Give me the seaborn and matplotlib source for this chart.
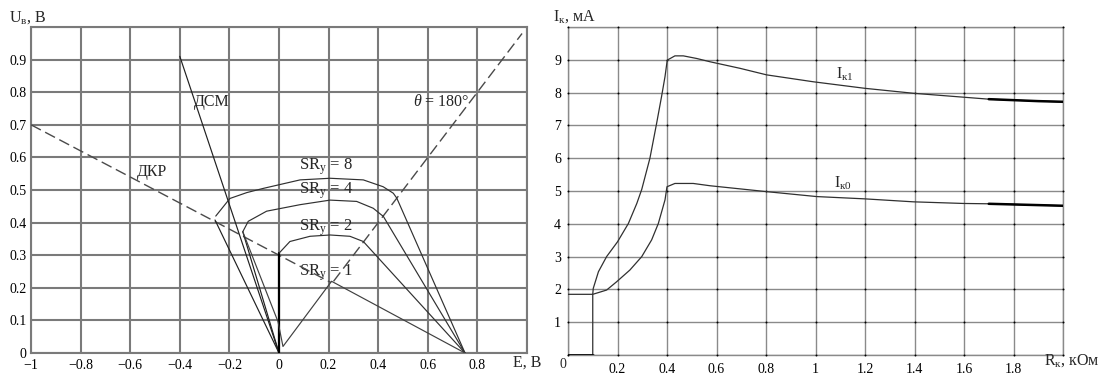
import numpy as np
import matplotlib
matplotlib.use("Agg")
import matplotlib.pyplot as plt
import seaborn as sns

# ---------------- data: left chart (E, B  vs  U_в, B) ----------------
dkr_E = [-1.0, 0.21]
dkr_U = [0.70, 0.216]
theta_E = [0.22, 0.98]
theta_U = [0.22, 0.98]
dsm_E = [-0.40, 0.0]
dsm_U = [0.91, 0.0]
sr8_E = [-0.255, -0.198, -0.13, -0.063, 0.085, 0.206, 0.34, 0.42, 0.461, 0.475, 0.75]
sr8_U = [0.420, 0.474, 0.492, 0.505, 0.531, 0.536, 0.531, 0.51, 0.49, 0.475, 0.0]
sr8_left_E = [-0.258, 0.0]
sr8_left_U = [0.408, 0.0]
sr4_E = [-0.146, -0.124, -0.05, 0.085, 0.206, 0.313, 0.38, 0.414, 0.42, 0.75]
sr4_U = [0.372, 0.404, 0.435, 0.455, 0.469, 0.465, 0.444, 0.423, 0.42, 0.0]
sr4_left_E = [-0.146, 0.0]
sr4_left_U = [0.372, 0.0]
sr2_vert_E = [0.0, 0.0]
sr2_vert_U = [0.0, 0.306]
sr2_E = [0.0, 0.044, 0.125, 0.206, 0.286, 0.34, 0.75]
sr2_U = [0.306, 0.342, 0.358, 0.362, 0.358, 0.342, 0.0]
sr1_E = [-0.146, -0.004, 0.016, 0.212, 0.75]
sr1_U = [0.372, 0.096, 0.02, 0.22, 0.0]

left_xticks = [-1.0, -0.8, -0.6, -0.4, -0.2, 0.0, 0.2, 0.4, 0.6, 0.8, 1.0]
left_xlabels = ["\u22121", "\u22120.8", "\u22120.6", "\u22120.4", "\u22120.2", "0", "0.2", "0.4", "0.6", "0.8", ""]
left_yticks = [0.0, 0.1, 0.2, 0.3, 0.4, 0.5, 0.6, 0.7, 0.8, 0.9, 1.0]
left_ylabels = ["0", "0.1", "0.2", "0.3", "0.4", "0.5", "0.6", "0.7", "0.8", "0.9", ""]

# ---------------- data: right chart (R_к, кОм vs I_к, мА) ----------------
rk_1 = [0.0, 0.1, 0.1, 0.102, 0.123, 0.156, 0.2, 0.244, 0.278, 0.298, 0.331, 0.358, 0.378,
        0.392, 0.401, 0.432, 0.466, 0.52, 0.574, 0.695, 0.803, 0.991, 1.2, 1.395, 1.598,
        1.7, 1.8, 1.9, 2.0]
ik_1 = [0.0, 0.0, 1.85, 2.03, 2.54, 3.0, 3.45, 4.01, 4.62, 5.05, 6.0, 7.06, 7.88,
        8.49, 8.99, 9.12, 9.12, 9.04, 8.94, 8.74, 8.54, 8.33, 8.13, 7.98, 7.86,
        7.8, 7.77, 7.74, 7.72]
rk_0 = [0.0, 0.1, 0.156, 0.196, 0.25, 0.298, 0.338, 0.365, 0.392, 0.4, 0.432, 0.506,
        0.574, 0.803, 1.005, 1.2, 1.395, 1.598, 1.7, 1.8, 2.0]
ik_0 = [1.85, 1.85, 1.98, 2.23, 2.59, 3.0, 3.51, 4.01, 4.73, 5.13, 5.23, 5.23,
        5.16, 4.98, 4.83, 4.76, 4.67, 4.62, 4.61, 4.59, 4.55]

right_xticks = [0.0, 0.2, 0.4, 0.6, 0.8, 1.0, 1.2, 1.4, 1.6, 1.8, 2.0]
right_xlabels = ["", "0.2", "0.4", "0.6", "0.8", "1", "1.2", "1.4", "1.6", "1.8", ""]
right_yticks = [0, 1, 2, 3, 4, 5, 6, 7, 8, 9, 10]
right_ylabels = ["", "1", "2", "3", "4", "5", "6", "7", "8", "9", ""]

# ---------------- style ----------------
sns.set_theme(style="white")
plt.rcParams["font.family"] = ["Liberation Serif", "DejaVu Serif"]
plt.rcParams["mathtext.fontset"] = "custom"
plt.rcParams["mathtext.rm"] = "Liberation Serif"
plt.rcParams["mathtext.it"] = "Liberation Serif:italic"
plt.rcParams["mathtext.bf"] = "Liberation Serif:bold"

W, H = 1101, 382
fig = plt.figure(figsize=(W / 100, H / 100), dpi=100)
axL = fig.add_axes([31 / W, 29 / H, 496 / W, 326 / H])
axR = fig.add_axes([568 / W, 27 / H, 495 / W, 328 / H])

def ftext(px, py, s, **kw):
    fig.text(px / W, 1 - py / H, s, ha="center", va="center", **kw)

def line(ax, x, y, color="#202020", lw=0.85, **kw):
    sns.lineplot(x=x, y=y, ax=ax, color=color, lw=lw, sort=False,
                 estimator=None, zorder=4, **kw)

# ---------------- left chart ----------------
axL.set_xlim(-1, 1)
axL.set_ylim(0, 1)
axL.set_xticks(left_xticks)
axL.set_xticklabels(left_xlabels)
axL.set_yticks(left_yticks)
axL.set_yticklabels(left_ylabels)
axL.grid(True, color="#7a7a7a", lw=1.5)
for sp in axL.spines.values():
    sp.set_visible(True)
    sp.set_color("#7a7a7a")
    sp.set_linewidth(1.5)
axL.tick_params(length=0, labelsize=10, colors="black")
axL.tick_params(axis="x", pad=4)
axL.tick_params(axis="y", pad=3)
axL.set_xlabel("")
axL.set_ylabel("")

line(axL, dkr_E, dkr_U, color="#4a4a4a", lw=1.0, linestyle=(0, (8, 3.5)))
line(axL, theta_E, theta_U, color="#4a4a4a", lw=1.0, linestyle=(0, (8, 3.5)))
line(axL, dsm_E, dsm_U)
line(axL, sr8_E, sr8_U, color="#303030")
line(axL, sr8_left_E, sr8_left_U)
line(axL, sr4_E, sr4_U, color="#303030")
line(axL, sr4_left_E, sr4_left_U)
line(axL, sr2_vert_E, sr2_vert_U, color="black", lw=1.6)
line(axL, sr2_E, sr2_U, color="#303030")
line(axL, sr1_E, sr1_U, color="#404040")

axL.text(-0.27, 0.77, "ДСМ", fontsize=11.5, ha="center", va="center")
axL.text(-0.512, 0.555, "ДКР", fontsize=11.5, ha="center", va="center")
axL.text(0.653, 0.77, r"$\theta$ = 180°", fontsize=11.5, ha="center", va="center")
for yv, n in [(0.571, 8), (0.497, 4), (0.383, 2), (0.245, 1)]:
    axL.text(0.19, yv, r"SR$_\mathrm{у}$ = %d" % n, fontsize=12, ha="center", va="center")

# ---------------- right chart ----------------
axR.set_xlim(0, 2)
axR.set_ylim(0, 10)
axR.set_xticks(right_xticks)
axR.set_xticklabels(right_xlabels)
axR.set_yticks(right_yticks)
axR.set_yticklabels(right_ylabels)
axR.grid(True, color="#8a8a8a", lw=1.0)
for sp in axR.spines.values():
    sp.set_visible(True)
    sp.set_color("#8a8a8a")
    sp.set_linewidth(1.0)
axR.tick_params(length=0, labelsize=10, colors="black")
axR.tick_params(axis="x", pad=6)
axR.tick_params(axis="y", pad=5)

XX, YY = np.meshgrid(right_xticks, right_yticks)
axR.scatter(XX.ravel(), YY.ravel(), s=2.0, color="black", linewidths=0, zorder=3, clip_on=False)

line(axR, rk_1, ik_1, color="#303030", lw=0.9)
line(axR, rk_0, ik_0, color="#303030", lw=0.9)
tail1 = [i for i, r in enumerate(rk_1) if r >= 1.7]
tail0 = [i for i, r in enumerate(rk_0) if r >= 1.7]
line(axR, [rk_1[i] for i in tail1], [ik_1[i] for i in tail1], color="black", lw=1.8)
line(axR, [rk_0[i] for i in tail0], [ik_0[i] for i in tail0], color="black", lw=1.8)
line(axR, rk_1[:2], ik_1[:2], color="black", lw=1.8)
axR.set_xlabel("")
axR.set_ylabel("")

axR.text(1.12, 8.57, r"I$_\mathrm{к1}$", fontsize=11.5, ha="center", va="center")
axR.text(1.11, 5.24, r"I$_\mathrm{к0}$", fontsize=11.5, ha="center", va="center")

# ---------------- axis titles ----------------
ftext(28, 18, r"U$_\mathrm{в}$, В", fontsize=11.5)
ftext(527, 363, "E, В", fontsize=11.5)
ftext(574, 17, r"I$_\mathrm{к}$, мА", fontsize=11.5)
ftext(1072, 361, r"R$_\mathrm{к}$, кОм", fontsize=11.5)
ftext(563, 364, "0", fontsize=10)

fig.savefig("out.png", dpi=100, facecolor="white")
